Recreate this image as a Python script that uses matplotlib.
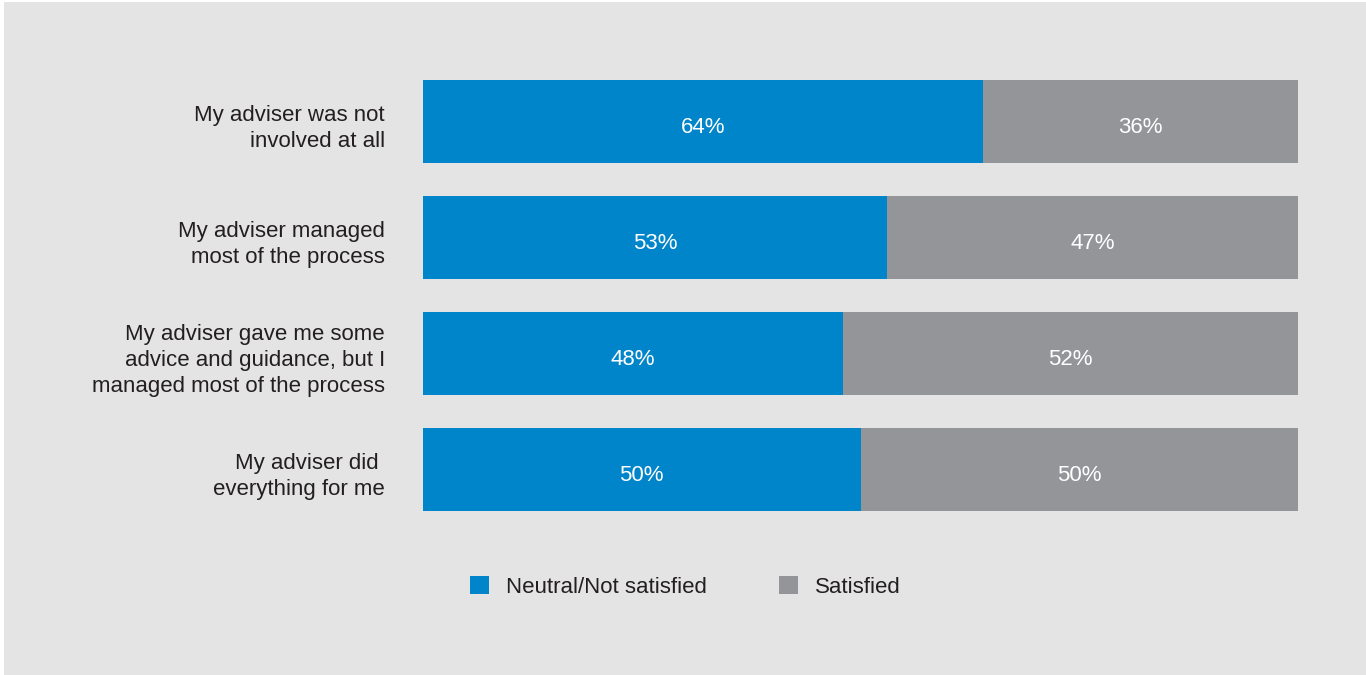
import matplotlib.pyplot as plt
from matplotlib.patches import Rectangle

plt.rcParams['font.family'] = ['Liberation Sans', 'DejaVu Sans']

categories = [
    "My adviser was not\ninvolved at all",
    "My adviser managed\nmost of the process",
    "My adviser gave me some\nadvice and guidance, but I\nmanaged most of the process",
    "My adviser did \neverything for me",
]
not_satisfied = [64, 53, 48, 50]
satisfied = [36, 47, 52, 50]
series_names = ["Neutral/Not satisfied", "Satisfied"]

BLUE = '#0085ca'
GREY = '#939598'
BG = '#e4e4e4'
TXT = '#231f20'
FS = 16

W, H = 1366, 675
fig = plt.figure(figsize=(W / 100, H / 100), dpi=100, facecolor='white')
# grey panel with a thin white edge on the left and top
fig.patches.append(Rectangle((4 / W, 0), 1 - 4 / W, 1 - 2 / H,
                             transform=fig.transFigure, facecolor=BG,
                             edgecolor='none', zorder=-5))

top_px, bot_px = 63.5, 527.5
ax = fig.add_axes([423 / W, 1 - bot_px / H, 875 / W, (bot_px - top_px) / H])
ax.set_facecolor('none')
ax.set_zorder(2)

ypos = list(range(len(categories)))
h = 83 / 116
b1 = ax.barh(ypos, not_satisfied, height=h, color=BLUE, label=series_names[0])
b2 = ax.barh(ypos, satisfied, left=not_satisfied, height=h, color=GREY,
             label=series_names[1])

for y, a, b in zip(ypos, not_satisfied, satisfied):
    ax.text(a / 2, y + 0.055, f"{a}%", ha='center', va='center', color='white', fontsize=FS)
    ax.text(a + b / 2, y + 0.055, f"{b}%", ha='center', va='center', color='white', fontsize=FS)

ax.set_xlim(0, 100)
ax.set_ylim(len(categories) - 0.5, -0.5)
ax.set_xticks([])
ax.set_yticks([])
for s in ax.spines.values():
    s.set_visible(False)

for y, lab in zip(ypos, categories):
    ax.text(-38 / 875 * 100, y + 0.06, lab, ha='right', va='center', color=TXT,
            fontsize=FS, linespacing=1.33)

fig.legend(handles=[b1, b2], loc='center left',
           bbox_to_anchor=(470 / W, 1 - 587 / H), ncol=2, frameon=False,
           fontsize=FS, handlelength=0.86, handleheight=0.86,
           handletextpad=0.77, columnspacing=3.24, borderpad=0,
           borderaxespad=0, labelcolor=TXT)

fig.savefig('out.png', dpi=100, facecolor='white')
